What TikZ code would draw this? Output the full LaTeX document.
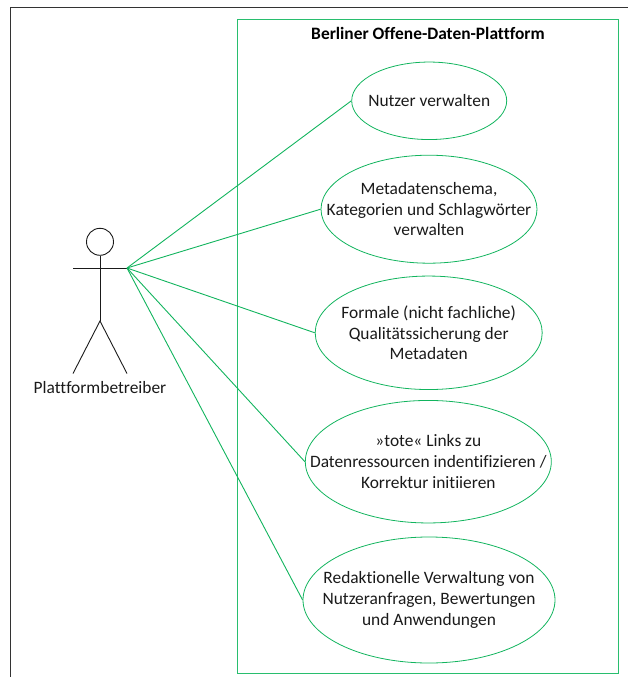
\documentclass[tikz,border=0pt]{standalone}
\usepackage{fontspec}
\setmainfont[Ligatures=NoCommon]{Carlito}
\usetikzlibrary{shapes.geometric}
\definecolor{ucgreen}{HTML}{12B45E}
\definecolor{boxgreen}{RGB}{40,190,110}
\definecolor{ink}{HTML}{1A1A1A}
\tikzset{
  usecase/.style={ellipse,draw=ucgreen,line width=.8pt,inner sep=0pt},
  casetext/.style={align=center,font=\fontsize{17.4}{20.8}\selectfont,text=ink,inner sep=0pt},
  assoc/.style={draw=ucgreen,line width=.9pt},
  stick/.style={draw=ink,line width=.9pt},
  frameline/.style={draw=black!80,line width=1pt},
  sysbox/.style={draw=boxgreen,line width=1.3pt},
}
\begin{document}
\begin{tikzpicture}[x=1pt,y=-1pt]
\useasboundingbox (0,0) rectangle (628,677);
\coordinate (fbl) at (10.5,677);
\coordinate (ftl) at (10.5,7.5);
\coordinate (ftr) at (628,7.5);
\draw[frameline] (fbl) -- (ftl) -- (ftr);
\coordinate (sysnw) at (237.2,19.2);
\coordinate (sysse) at (618.4,673.2);
\draw[sysbox] (sysnw) rectangle (sysse);
\node[font=\fontsize{17.4}{20}\selectfont\bfseries,text=black,inner sep=0pt] (title) at (428,33) {Berliner Offene-Daten-Plattform};
\node[usecase,minimum width=155pt,minimum height=77.5pt,label={[casetext]center:Nutzer verwalten}] (u1) at (429.2,100.8) {};
\node[usecase,minimum width=216pt,minimum height=108pt,label={[casetext]center:{Metadatenschema,\\Kategorien und Schlagwörter\\verwalten}}] (u2) at (429,209.2) {};
\node[usecase,minimum width=227pt,minimum height=113.5pt,label={[casetext]center:{Formale (nicht fachliche)\\Qualitätssicherung der\\Metadaten}}] (u3) at (428.7,332.8) {};
\node[usecase,minimum width=246pt,minimum height=122.5pt,label={[casetext]center:{»tote« Links zu\\Datenressourcen indentifizieren /\\Korrektur initiieren}}] (u4) at (428.3,461.7) {};
\node[usecase,minimum width=252pt,minimum height=126pt,label={[casetext]center:{Redaktionelle Verwaltung von\\Nutzeranfragen, Bewertungen\\und Anwendungen}}] (u5) at (429,600) {};
% actor
\node[circle,stick,inner sep=0pt,minimum size=27pt] (head) at (100,241.8) {};
\coordinate (hipj) at (100,321);
\coordinate (handl) at (73,268);
\coordinate (handr) at (127,268);
\coordinate (footl) at (73,373.5);
\coordinate (footr) at (127,373.5);
\draw[stick] (head.south) -- (hipj);
\draw[stick] (handl) -- (handr);
\draw[stick] (footl) -- (hipj) -- (footr);
\node[font=\fontsize{17.4}{20}\selectfont,text=ink,inner sep=0pt] (actor) at (100,388) {Plattformbetreiber};
% associations
\draw[assoc] (handr) -- (u1.west);
\draw[assoc] (handr) -- (u2.west);
\draw[assoc] (handr) -- (u3.west);
\draw[assoc] (handr) -- (u4.west);
\draw[assoc] (handr) -- (u5.west);
\end{tikzpicture}
\end{document}
